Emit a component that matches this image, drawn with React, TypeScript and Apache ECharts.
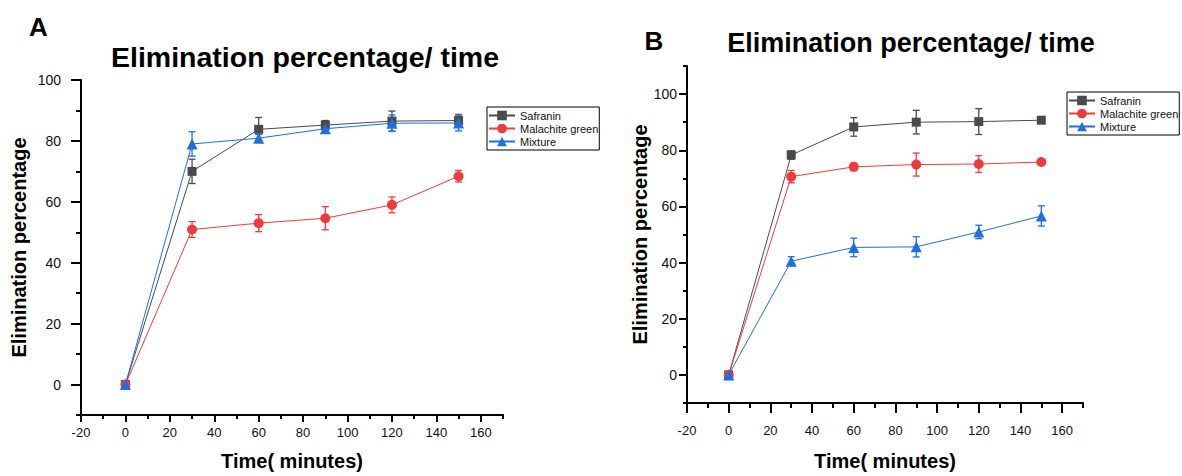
import React, { useEffect, useRef } from "react";
import * as echarts from "echarts";

const times = [0, 30, 60, 90, 120, 150];
const seriesNames = ["Safranin", "Malachite green", "Mixture"];

// Panel A
const safA = [0, 70.0, 83.8, 85.2, 86.5, 86.7];
const safAErr = [0, 4.0, 3.9, 1.5, 3.3, 2.0];
const malA = [0, 50.9, 53.0, 54.6, 59.0, 68.4];
const malAErr = [0, 2.6, 2.8, 3.8, 2.6, 1.9];
const mixA = [0, 79.0, 80.9, 84.0, 85.8, 85.9];
const mixAErr = [0, 4.0, 1.2, 1.5, 2.7, 2.6];

// Panel B
const safB = [0, 78.3, 88.3, 90.0, 90.2, 90.7];
const safBErr = [0, 1.5, 3.3, 4.2, 4.6, 0.6];
const malB = [0, 70.6, 74.1, 74.9, 75.1, 75.8];
const malBErr = [0, 2.2, 1.3, 4.1, 3.0, 0.8];
const mixB = [0, 40.5, 45.4, 45.6, 50.9, 56.6];
const mixBErr = [0, 1.6, 3.3, 3.6, 2.4, 3.6];

const xMajor = [-20, 0, 20, 40, 60, 80, 100, 120, 140, 160];
const yMajor = [0, 20, 40, 60, 80, 100];

const titleText = "Elimination percentage/ time";
const yTitle = "Elimination percentage";
const xTitle = "Time( minutes)";

const FONT = "Liberation Sans, Arial, Helvetica, sans-serif";
const colors = ["#4a4a4a", "#ef3b3b", "#1f6fde"];
const symbols = ["rect", "circle", "triangle"];
const symbolSizes = [9, 10, 11];

function mainX(grid: number, marginLabel: number, tickLen: number, nameGap: number) {
  return {
    type: "value", gridIndex: grid, min: -20, max: 170, interval: 10, position: "bottom",
    axisLine: { onZero: false, lineStyle: { color: "#000", width: 2 } },
    axisTick: { length: tickLen, lineStyle: { color: "#000", width: 2 } },
    axisLabel: { formatter: (v: number) => (v % 20 === 0 ? String(v) : ""), margin: marginLabel, fontSize: 13, color: "#111", fontFamily: FONT },
    splitLine: { show: false },
    name: xTitle, nameLocation: "middle", nameGap,
    nameTextStyle: { fontSize: 20, fontWeight: "bold", color: "#000", fontFamily: FONT },
  };
}
function overlayX(grid: number, tickLen: number) {
  return {
    type: "value", gridIndex: grid, min: -20, max: 170, interval: 10, position: "bottom",
    axisLine: { show: false, onZero: false },
    axisTick: { show: true, length: tickLen, customValues: xMajor, lineStyle: { color: "#000", width: 2 } },
    axisLabel: { show: false }, splitLine: { show: false },
  };
}
function mainY(grid: number, max: number, marginLabel: number, tickLen: number, nameGap: number) {
  return {
    type: "value", gridIndex: grid, min: -10, max, interval: 10, position: "left",
    axisLine: { onZero: false, lineStyle: { color: "#000", width: 2 } },
    axisTick: { length: tickLen, lineStyle: { color: "#000", width: 2 } },
    axisLabel: { formatter: (v: number) => (v % 20 === 0 && v <= 100 ? String(v) : ""), margin: marginLabel, fontSize: 14, color: "#111", fontFamily: FONT },
    splitLine: { show: false },
    name: yTitle, nameLocation: "middle", nameGap,
    nameTextStyle: { fontSize: 20, fontWeight: "bold", color: "#000", fontFamily: FONT },
  };
}
function overlayY(grid: number, max: number, tickLen: number) {
  return {
    type: "value", gridIndex: grid, min: -10, max, interval: 10, position: "left",
    axisLine: { show: false, onZero: false },
    axisTick: { show: true, length: tickLen, customValues: yMajor, lineStyle: { color: "#000", width: 2 } },
    axisLabel: { show: false }, splitLine: { show: false },
  };
}

function lineSeries(idx: number, vals: number[], xi: number, yi: number) {
  return {
    type: "line", name: seriesNames[idx], xAxisIndex: xi, yAxisIndex: yi,
    data: times.map((t, i) => [t, vals[i]]),
    symbol: symbols[idx], symbolSize: symbolSizes[idx],
    itemStyle: { color: colors[idx] },
    lineStyle: { color: colors[idx], width: 1 },
    z: 3 + idx,
  };
}
function errSeries(idx: number, vals: number[], errs: number[], xi: number, yi: number) {
  return {
    type: "custom", name: "err-" + seriesNames[idx], xAxisIndex: xi, yAxisIndex: yi,
    data: times.map((t, i) => [t, vals[i], errs[i]]),
    encode: { x: 0, y: 1 },
    silent: true, z: 2,
    renderItem: (_p: any, api: any) => {
      const x = api.value(0), y = api.value(1), e = api.value(2);
      if (!e) return { type: "group", children: [] };
      const top = api.coord([x, y + e]);
      const bot = api.coord([x, y - e]);
      const w = 3.5;
      const st = { stroke: colors[idx], lineWidth: 1.3 };
      return {
        type: "group",
        children: [
          { type: "line", shape: { x1: top[0], y1: top[1], x2: bot[0], y2: bot[1] }, style: st },
          { type: "line", shape: { x1: top[0] - w, y1: top[1], x2: top[0] + w, y2: top[1] }, style: st },
          { type: "line", shape: { x1: bot[0] - w, y1: bot[1], x2: bot[0] + w, y2: bot[1] }, style: st },
        ],
      };
    },
  };
}

function legend(left: number, top: number) {
  return {
    orient: "vertical", left, top, data: seriesNames,
    itemWidth: 26, itemHeight: 12, itemGap: 2, padding: [3, 1, 3, 1],
    borderColor: "#000", borderWidth: 1, selectedMode: false,
    textStyle: { fontSize: 11, color: "#111", fontFamily: FONT },
  };
}

function text(x: number, y: number, s: string, size: number) {
  return {
    type: "text", x, y,
    style: { text: s, font: `bold ${size}px ${FONT}`, fill: "#000", textAlign: "center", textVerticalAlign: "middle", align: "center", verticalAlign: "middle" },
  };
}

export default function App() {
  const ref = useRef<HTMLDivElement>(null);
  useEffect(() => {
    if (!ref.current) return;
    const chart = echarts.init(ref.current, undefined, { renderer: "svg" });
    const option: any = {
      animation: false,
      backgroundColor: "#fff",
      textStyle: { fontFamily: FONT },
      grid: [
        { left: 81, top: 80, width: 422, height: 339 },
        { left: 687, top: 66, width: 396, height: 338 },
      ],
      xAxis: [mainX(0, 11, 4, 36), overlayX(0, 7), mainX(1, 21, 5, 48), overlayX(1, 10)],
      yAxis: [mainY(0, 100, 20, 5, 52), overlayY(0, 100, 10), mainY(1, 110, 10, 4, 34), overlayY(1, 110, 8)],
      legend: [legend(487, 107), legend(1067, 92)],
      graphic: [
        text(38.5, 27, "A", 26),
        text(305, 57, titleText, 28.5),
        text(654, 41, "B", 26),
        text(911, 43, titleText, 27),
      ],
      series: [
        errSeries(0, safA, safAErr, 0, 0),
        errSeries(1, malA, malAErr, 0, 0),
        errSeries(2, mixA, mixAErr, 0, 0),
        lineSeries(0, safA, 0, 0),
        lineSeries(1, malA, 0, 0),
        lineSeries(2, mixA, 0, 0),
        errSeries(0, safB, safBErr, 2, 2),
        errSeries(1, malB, malBErr, 2, 2),
        errSeries(2, mixB, mixBErr, 2, 2),
        lineSeries(0, safB, 2, 2),
        lineSeries(1, malB, 2, 2),
        lineSeries(2, mixB, 2, 2),
      ],
    };
    chart.setOption(option);
    return () => chart.dispose();
  }, []);
  return <div ref={ref} style={{ position: "absolute", left: 0, top: 0, width: 1182, height: 476 }} />;
}
